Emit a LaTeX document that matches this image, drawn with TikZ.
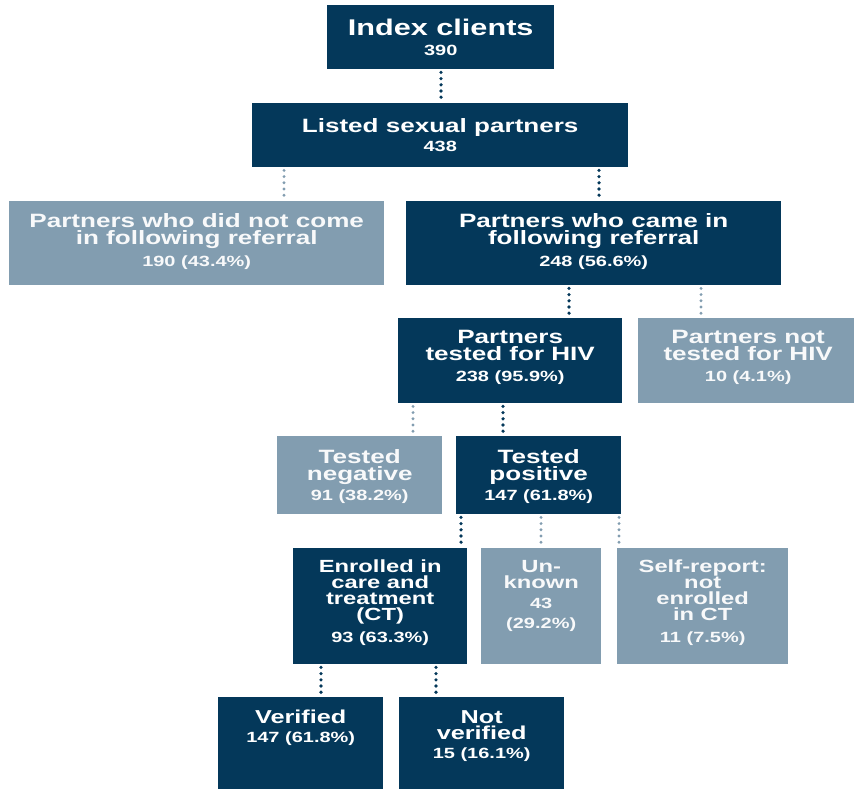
\documentclass[tikz,border=0pt]{standalone}
\usepackage{fontspec}
\setmainfont{Liberation Sans}[FakeStretch=1.35]

\definecolor{navy}{HTML}{04385A}
\definecolor{slate}{HTML}{829DB0}

% w, h, top pad, label, skip to number, number
\newcommand{\cell}[6]{\parbox[t][#2pt][t]{#1pt}{\centering\parskip=0pt\lineskiplimit=-100pt
  \vspace*{#3pt}#4\par{\fontsize{14.8}{#5}\selectfont #6\par}}}

\begin{document}
\begin{tikzpicture}[x=1pt, y=-1pt,
    box/.style={inner sep=0pt, anchor=north west, text=white, font=\bfseries\fontsize{19.3}{17.5}\selectfont},
    dark/.style={box, fill=navy},
    light/.style={box, fill=slate, text=white!94!slate},
    small/.style={font=\bfseries\fontsize{17.6}{16}\selectfont},
    dotdk/.style={navy, line width=3.6pt, line cap=round, dash pattern=on 0pt off 6.2pt},
    dotlt/.style={slate, line width=3.2pt, line cap=round, dash pattern=on 0pt off 6.2pt}]

    \useasboundingbox (0,0) rectangle (854,789);

    \node[dark, font=\bfseries\fontsize{22.7}{20}\selectfont] (idx) at (327,5) {\cell{227}{64}{14}{Index clients}{20}{390}};
    \node[dark] (listed) at (252,103) {\cell{376}{64}{15}{Listed sexual partners}{19}{438}};

    \node[light] (notcome) at (9,201) {\cell{375}{84}{12}{Partners who did not come\\in following referral}{22}{190 (43.4\%)}};
    \node[dark] (came) at (406,201) {\cell{375}{84}{12}{Partners who came in\\following referral}{22}{248 (56.6\%)}};

    \node[dark] (tested) at (398,318) {\cell{224}{85}{12}{Partners\\tested for HIV}{21}{238 (95.9\%)}};
    \node[light] (nottested) at (638,318) {\cell{220}{85}{12}{Partners not\\tested for HIV}{21}{10 (4.1\%)}};

    \node[light] (neg) at (277,436) {\cell{165}{78}{13}{Tested\\negative}{20}{91 (38.2\%)}};
    \node[dark] (pos) at (456,436) {\cell{165}{78}{13}{Tested\\positive}{20}{147 (61.8\%)}};

    \node[dark, small] (enrolled) at (293,548) {\cell{174}{116}{12}{Enrolled in\\care and\\treatment\\(CT)}{22}{93 (63.3\%)}};
    \node[light, small] (unknown) at (481,548) {\cell{120}{116}{12}{Un-\\known}{20}{43\\(29.2\%)}};
    \node[light, small] (selfrep) at (617,548) {\cell{171}{116}{12}{Self-report:\\not\\enrolled\\in CT}{22}{11 (7.5\%)}};

    \node[dark, font=\bfseries\fontsize{18.7}{16.5}\selectfont] (verified) at (218,697) {\cell{165}{100}{13}{Verified}{19}{147 (61.8\%)}};
    \node[dark, font=\bfseries\fontsize{18.7}{16.5}\selectfont] (notver) at (399,697) {\cell{165}{100}{13}{Not\\verified}{19}{15 (16.1\%)}};

    % dotted links, shift from the parent's left edge
    \foreach \from/\to/\dx/\sty in {idx/listed/114/dotdk, listed/notcome/32/dotlt, listed/came/347/dotdk,
        came/tested/163/dotdk, came/nottested/295/dotlt, tested/neg/15/dotlt, tested/pos/105/dotdk,
        pos/enrolled/5/dotdk, pos/unknown/85/dotlt, pos/selfrep/163/dotlt,
        enrolled/verified/28/dotdk, enrolled/notver/143/dotdk}
    \draw[\sty] ([xshift=\dx pt, yshift=-3pt]\from.south west) -- ([xshift=\dx pt]\from.south west |- \to.north);

\end{tikzpicture}
\end{document}
